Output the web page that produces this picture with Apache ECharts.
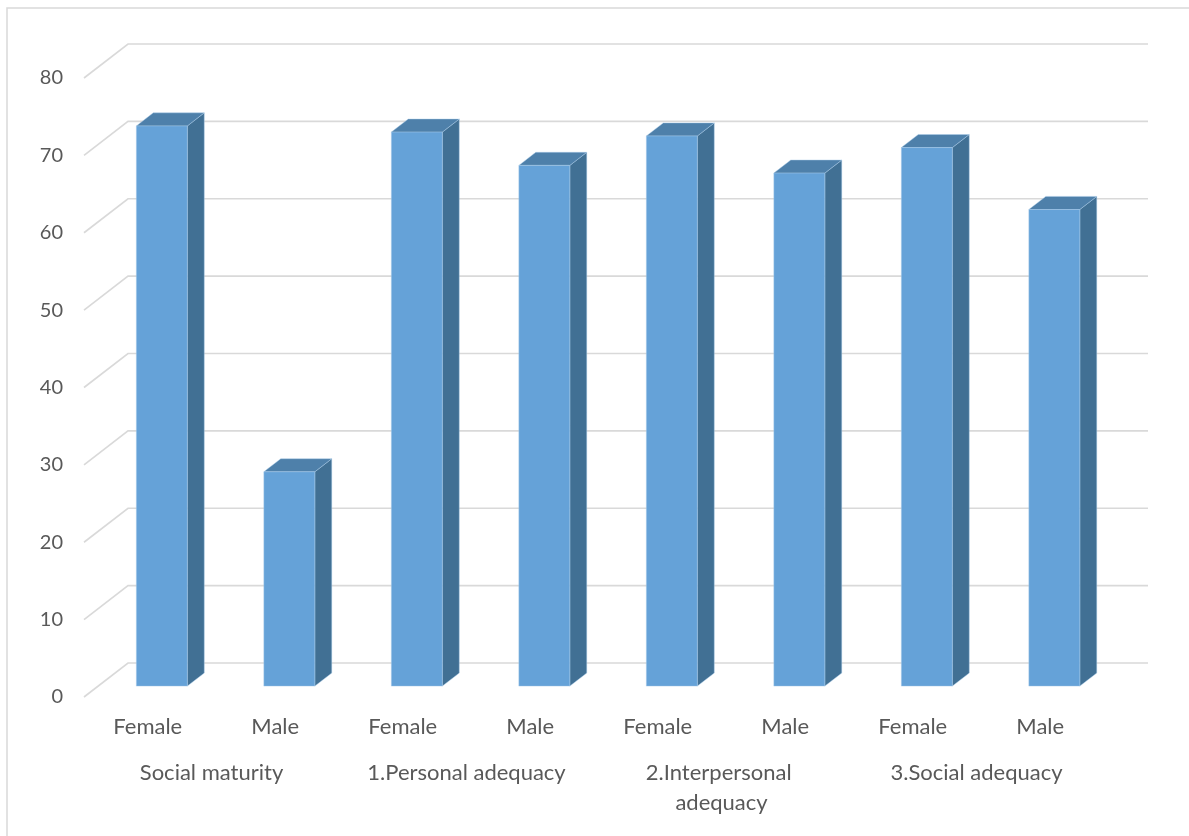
<!DOCTYPE html>
<html>
<head>
<meta charset="utf-8">
<script src="https://cdn.jsdelivr.net/npm/echarts@6/dist/echarts.min.js"></script>
<style>
  html, body { margin: 0; padding: 0; background: #ffffff; }
  #chart { width: 1189px; height: 836px; }
</style>
</head>
<body>
<div id="chart"></div>
<script>
// Group labels (second row) and the per-bar category labels (first row)
const groups = ['Social maturity', '1.Personal adequacy', '2.Interpersonal adequacy', '3.Social adequacy'];
const genders = ['Female', 'Male', 'Female', 'Male', 'Female', 'Male', 'Female', 'Male'];
// Mean scores, one per bar in the order of `genders`
const values = [72.4, 27.7, 71.6, 67.3, 71.1, 66.3, 69.6, 61.6];
// Value-axis ticks
const yTicks = [0, 10, 20, 30, 40, 50, 60, 70, 80];

// Oblique projection of the floor: the back wall sits right of and above the front plane
const DEPTH_X = 44, DEPTH_Y = -34;
// Column position inside the depth (fractions of the floor depth) and its width (fraction of a category)
const BAR_FRONT = 0.32, BAR_BACK = 0.705, BAR_WIDTH = 0.4;

const FONT = 'Lato, "Open Sans", sans-serif';
const TEXT = '#595959';
const GRID_LINE = '#d9d9d9';

const chart = echarts.init(document.getElementById('chart'), null, { renderer: 'canvas' });

// Gridline: front-left corner -> back wall -> across the back wall
function renderGridLine(params, api) {
  const cs = params.coordSys;
  const y = api.coord([0, api.value(1)])[1];
  const left = cs.x, right = cs.x + cs.width;
  return {
    type: 'polyline',
    shape: { points: [[left, y], [left + DEPTH_X, y + DEPTH_Y], [right + DEPTH_X, y + DEPTH_Y]] },
    style: { stroke: GRID_LINE, lineWidth: 1.6, fill: null },
    silent: true
  };
}

// 3-D column: front face, right side and top
function renderColumn(params, api) {
  const i = api.value(0), v = api.value(1);
  const top = api.coord([i, v]);
  const base = api.coord([i, 0]);
  const bw = api.size([1, 0])[0] * BAR_WIDTH;
  const fx = BAR_FRONT * DEPTH_X, fy = BAR_FRONT * DEPTH_Y;
  const dx = (BAR_BACK - BAR_FRONT) * DEPTH_X, dy = (BAR_BACK - BAR_FRONT) * DEPTH_Y;
  const x0 = top[0] - bw / 2 + fx, x1 = x0 + bw;
  const yt = top[1] + fy, yb = base[1] + fy;
  const edge = 'rgba(170,205,235,0.55)';
  return {
    type: 'group',
    children: [
      {
        type: 'polygon',
        shape: { points: [[x1, yt], [x1 + dx, yt + dy], [x1 + dx, yb + dy], [x1, yb]] },
        style: { fill: '#417094', stroke: edge, lineWidth: 0.8 }
      },
      {
        type: 'polygon',
        shape: { points: [[x0, yt], [x0 + dx, yt + dy], [x1 + dx, yt + dy], [x1, yt]] },
        style: { fill: '#4e80aa', stroke: edge, lineWidth: 0.8 }
      },
      {
        type: 'rect',
        shape: { x: x0, y: yt, width: bw, height: yb - yt },
        style: { fill: '#65a2d8', stroke: edge, lineWidth: 0.8 }
      }
    ]
  };
}

const option = {
  backgroundColor: '#ffffff',
  animation: false,
  graphic: [{
    type: 'rect',
    shape: { x: 7, y: 8, width: 1200, height: 900 },
    style: { fill: null, stroke: GRID_LINE, lineWidth: 1.5 },
    silent: true
  }],
  grid: { left: 84, right: 85, top: 78, bottom: 139 },
  xAxis: [
    {
      type: 'category',
      data: genders,
      axisLine: { show: false },
      axisTick: { show: false },
      splitLine: { show: false },
      axisLabel: { color: TEXT, fontFamily: FONT, fontSize: 22, margin: 19, interval: 0 }
    },
    {
      type: 'category',
      data: groups,
      position: 'bottom',
      offset: 46,
      axisLine: { show: false },
      axisTick: { show: false },
      splitLine: { show: false },
      axisLabel: {
        color: TEXT, fontFamily: FONT, fontSize: 22, margin: 15, interval: 0,
        lineHeight: 30, width: 218, overflow: 'break', align: 'center'
      }
    }
  ],
  yAxis: {
    type: 'value',
    min: yTicks[0],
    max: yTicks[yTicks.length - 1],
    interval: yTicks[1] - yTicks[0],
    axisLine: { show: false },
    axisTick: { show: false },
    splitLine: { show: false },
    axisLabel: { color: TEXT, fontFamily: FONT, fontSize: 20, margin: 21 }
  },
  series: [
    {
      type: 'custom',
      name: 'gridlines',
      xAxisIndex: 0,
      yAxisIndex: 0,
      z: 1,
      silent: true,
      renderItem: renderGridLine,
      data: yTicks.map(v => [0, v])
    },
    {
      type: 'custom',
      name: 'scores',
      xAxisIndex: 0,
      yAxisIndex: 0,
      z: 2,
      renderItem: renderColumn,
      data: values.map((v, i) => [i, v])
    }
  ]
};

chart.setOption(option);
</script>
</body>
</html>
